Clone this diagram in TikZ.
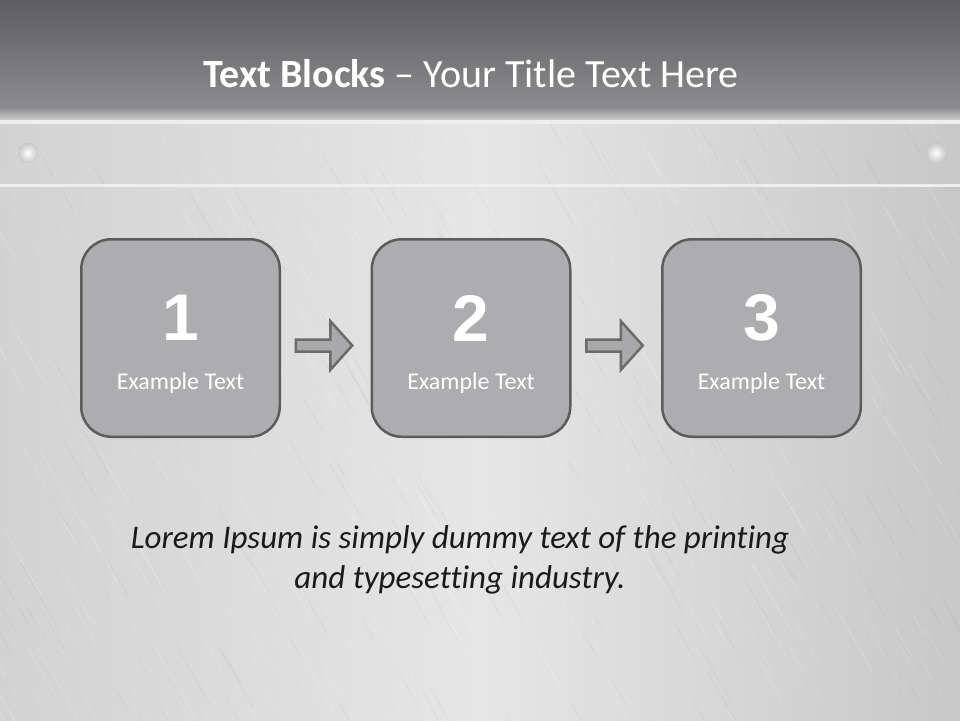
\documentclass[tikz,border=0pt]{standalone}
\usepackage{fontspec}
\setmainfont{Carlito}[Ligatures=NoCommon]
\newfontfamily\numfont{Liberation Sans}
\usetikzlibrary{positioning,calc}
\definecolor{headtop}{HTML}{5E5E60}
\definecolor{headbot}{HTML}{8F8F91}
\definecolor{metaldark}{HTML}{D2D2D3}
\definecolor{metallight}{HTML}{E6E6E7}
\definecolor{stripline}{HTML}{EEEEEE}
\definecolor{boxfill}{HTML}{ADADAF}
\definecolor{boxline}{HTML}{5C5C5C}
\definecolor{arrowfill}{HTML}{A9A9AB}
\definecolor{arrowline}{HTML}{6B6B6B}
\definecolor{bodyink}{HTML}{1A1A1A}

\tikzset{
  stepbox/.style={draw=boxline, line width=2.5pt, fill=boxfill, rounded corners=30pt,
    minimum width=198.5pt, minimum height=197.5pt, inner sep=0pt},
  numlabel/.style={text=white, font=\numfont\bfseries\fontsize{66}{66}\selectfont, inner sep=0pt},
  steplabel/.style={text=white, font=\fontsize{24}{28}\selectfont, inner sep=0pt},
  blockarrow/.style={draw=arrowline, line width=2.5pt, fill=arrowfill, line join=miter},
  rivet/.style={inner color=white, outer color=black!22}
}

\begin{document}
\begin{tikzpicture}[x=1pt, y=-1pt]
  \useasboundingbox (0,0) rectangle (960,720);

  % Brushed metal background
  \shade[left color=metaldark, right color=metaldark!95!black, middle color=metallight] (0,0) rectangle (960,720);
  \pgfmathsetseed{7}
  \foreach \k in {1,...,420}{
    \pgfmathsetmacro\sx{rnd*1250-250}
    \pgfmathsetmacro\sy{rnd*640+110}
    \pgfmathsetmacro\len{rnd*70+20}
    \pgfmathsetmacro\op{rnd*0.25+0.08}
    \draw[white, opacity=\op, line width=0.5pt] (\sx,\sy) -- ++(0.5*\len,0.87*\len);
  }
  \foreach \k in {1,...,200}{
    \pgfmathsetmacro\sx{rnd*1250-250}
    \pgfmathsetmacro\sy{rnd*640+110}
    \pgfmathsetmacro\len{rnd*60+20}
    \draw[black, opacity=0.05, line width=0.5pt] (\sx,\sy) -- ++(0.5*\len,0.87*\len);
  }

  % Title band
  \shade[top color=headtop, bottom color=headbot] (0,0) rectangle (960,115);
  \shade[top color=headbot, bottom color=metaldark] (0,108) rectangle (960,121);
  \draw[stripline, line width=4pt] (0,122) -- (960,122);
  \draw[stripline, line width=3.5pt] (0,185.5) -- (960,185.5);

  % Rivets
  \shade[rivet] (28,153) circle (10);
  \shade[rivet] (936,153) circle (10);

  \node[text=white, font=\fontsize{40}{48}\selectfont, anchor=base] (title) at (471,87)
    {\textbf{Text Blocks} -- Your Title Text Here};

  % Step boxes
  \node[stepbox] (box1) at (180.5,338) {};
  \node[stepbox, right=89.5pt of box1] (box2) {};
  \node[stepbox, right=89.5pt of box2] (box3) {};
  \foreach \i in {1,2,3}{
    \node[numlabel] (num\i) at ([yshift=20pt]box\i.center) {\i};
    \node[steplabel, anchor=base] (txt\i) at ([yshift=-51pt]box\i.center) {Example Text};
  }

  % Arrows between boxes
  \foreach \a/\b in {box1/box2, box2/box3}{
    \coordinate (m) at ($(\a.east)!0.5!(\b.west)+(0,7.5)$);
    \draw[blockarrow] ($(m)+(-30,-6)$) -- ($(m)+(4.5,-6)$) -- ($(m)+(4.5,-24.5)$)
      -- ($(m)+(26.5,0)$) -- ($(m)+(4.5,24.5)$) -- ($(m)+(4.5,6)$) -- ($(m)+(-30,6)$) -- cycle;
  }

  % Body text
  \node[text=bodyink, font=\itshape\fontsize{33}{40}\selectfont, align=center, anchor=base] (body) at (460,588)
    {Lorem Ipsum is simply dummy text of the printing\\and typesetting industry.};
\end{tikzpicture}
\end{document}
